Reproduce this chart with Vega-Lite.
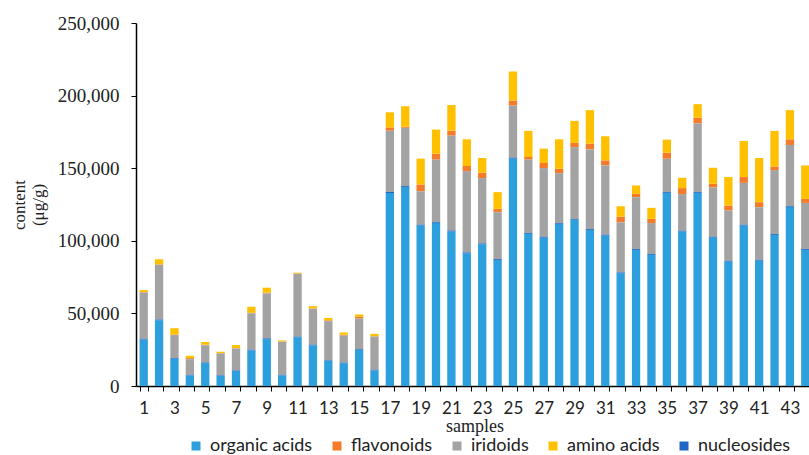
{
  "$schema": "https://vega.github.io/schema/vega-lite/v6.json",
  "width": 673,
  "height": 363,
  "autosize": "none",
  "padding": {"left": 136, "top": 23, "right": 0, "bottom": 69},
  "background": "white",
  "data": {"values": [
    {"sample": 1, "organic acids": 32000, "flavonoids": 300, "iridoids": 31900, "amino acids": 1400, "nucleosides": 500},
    {"sample": 2, "organic acids": 45300, "flavonoids": 300, "iridoids": 37700, "amino acids": 3500, "nucleosides": 500},
    {"sample": 3, "organic acids": 18800, "flavonoids": 300, "iridoids": 15800, "amino acids": 4400, "nucleosides": 500},
    {"sample": 4, "organic acids": 7300, "flavonoids": 700, "iridoids": 10800, "amino acids": 1600, "nucleosides": 400},
    {"sample": 5, "organic acids": 15800, "flavonoids": 300, "iridoids": 11900, "amino acids": 1900, "nucleosides": 400},
    {"sample": 6, "organic acids": 7000, "flavonoids": 300, "iridoids": 15000, "amino acids": 900, "nucleosides": 400},
    {"sample": 7, "organic acids": 10300, "flavonoids": 200, "iridoids": 15200, "amino acids": 2100, "nucleosides": 400},
    {"sample": 8, "organic acids": 24500, "flavonoids": 300, "iridoids": 25100, "amino acids": 4200, "nucleosides": 500},
    {"sample": 9, "organic acids": 32300, "flavonoids": 500, "iridoids": 31000, "amino acids": 3400, "nucleosides": 500},
    {"sample": 10, "organic acids": 7300, "flavonoids": 200, "iridoids": 22800, "amino acids": 700, "nucleosides": 400},
    {"sample": 11, "organic acids": 33600, "flavonoids": 300, "iridoids": 43200, "amino acids": 500, "nucleosides": 400},
    {"sample": 12, "organic acids": 28000, "flavonoids": 200, "iridoids": 24700, "amino acids": 1600, "nucleosides": 500},
    {"sample": 13, "organic acids": 17300, "flavonoids": 500, "iridoids": 27000, "amino acids": 1700, "nucleosides": 400},
    {"sample": 14, "organic acids": 15700, "flavonoids": 600, "iridoids": 18600, "amino acids": 1600, "nucleosides": 400},
    {"sample": 15, "organic acids": 25000, "flavonoids": 1300, "iridoids": 20900, "amino acids": 1600, "nucleosides": 500},
    {"sample": 16, "organic acids": 10700, "flavonoids": 200, "iridoids": 22900, "amino acids": 1600, "nucleosides": 500},
    {"sample": 17, "organic acids": 132900, "flavonoids": 2300, "iridoids": 42200, "amino acids": 10400, "nucleosides": 700},
    {"sample": 18, "organic acids": 137100, "flavonoids": 700, "iridoids": 40100, "amino acids": 14200, "nucleosides": 600},
    {"sample": 19, "organic acids": 110500, "flavonoids": 4700, "iridoids": 23000, "amino acids": 17800, "nucleosides": 600},
    {"sample": 20, "organic acids": 112200, "flavonoids": 4100, "iridoids": 43100, "amino acids": 16600, "nucleosides": 600},
    {"sample": 21, "organic acids": 106400, "flavonoids": 3400, "iridoids": 65300, "amino acids": 17700, "nucleosides": 700},
    {"sample": 22, "organic acids": 91400, "flavonoids": 3500, "iridoids": 56000, "amino acids": 18400, "nucleosides": 600},
    {"sample": 23, "organic acids": 97600, "flavonoids": 3700, "iridoids": 45000, "amino acids": 10100, "nucleosides": 600},
    {"sample": 24, "organic acids": 86800, "flavonoids": 2300, "iridoids": 32300, "amino acids": 11500, "nucleosides": 600},
    {"sample": 25, "organic acids": 156600, "flavonoids": 3500, "iridoids": 35800, "amino acids": 20000, "nucleosides": 700},
    {"sample": 26, "organic acids": 104800, "flavonoids": 1800, "iridoids": 50500, "amino acids": 18000, "nucleosides": 600},
    {"sample": 27, "organic acids": 102200, "flavonoids": 3500, "iridoids": 47300, "amino acids": 9900, "nucleosides": 600},
    {"sample": 28, "organic acids": 111500, "flavonoids": 3000, "iridoids": 34500, "amino acids": 20300, "nucleosides": 600},
    {"sample": 29, "organic acids": 114500, "flavonoids": 2900, "iridoids": 49400, "amino acids": 15200, "nucleosides": 600},
    {"sample": 30, "organic acids": 107500, "flavonoids": 4000, "iridoids": 54800, "amino acids": 23100, "nucleosides": 600},
    {"sample": 31, "organic acids": 103600, "flavonoids": 3500, "iridoids": 47700, "amino acids": 16600, "nucleosides": 600},
    {"sample": 32, "organic acids": 77600, "flavonoids": 3900, "iridoids": 34500, "amino acids": 7200, "nucleosides": 600},
    {"sample": 33, "organic acids": 93700, "flavonoids": 2300, "iridoids": 35700, "amino acids": 5800, "nucleosides": 600},
    {"sample": 34, "organic acids": 90300, "flavonoids": 2900, "iridoids": 21300, "amino acids": 7600, "nucleosides": 600},
    {"sample": 35, "organic acids": 132900, "flavonoids": 4200, "iridoids": 23000, "amino acids": 9000, "nucleosides": 600},
    {"sample": 36, "organic acids": 106400, "flavonoids": 4100, "iridoids": 25200, "amino acids": 7100, "nucleosides": 600},
    {"sample": 37, "organic acids": 132900, "flavonoids": 3900, "iridoids": 47300, "amino acids": 9400, "nucleosides": 600},
    {"sample": 38, "organic acids": 102200, "flavonoids": 2600, "iridoids": 33900, "amino acids": 11000, "nucleosides": 600},
    {"sample": 39, "organic acids": 85600, "flavonoids": 3500, "iridoids": 34600, "amino acids": 19600, "nucleosides": 600},
    {"sample": 40, "organic acids": 110500, "flavonoids": 4000, "iridoids": 28800, "amino acids": 24900, "nucleosides": 600},
    {"sample": 41, "organic acids": 86300, "flavonoids": 3500, "iridoids": 36200, "amino acids": 30400, "nucleosides": 600},
    {"sample": 42, "organic acids": 104100, "flavonoids": 2500, "iridoids": 44000, "amino acids": 24500, "nucleosides": 600},
    {"sample": 43, "organic acids": 123200, "flavonoids": 3900, "iridoids": 42200, "amino acids": 20100, "nucleosides": 600},
    {"sample": 44, "organic acids": 93700, "flavonoids": 2800, "iridoids": 31800, "amino acids": 23000, "nucleosides": 600}
  ]},
  "transform": [
    {"fold": ["organic acids", "flavonoids", "iridoids", "amino acids", "nucleosides"], "as": ["compound", "content"]}
  ],
  "mark": {"type": "bar"},
  "encoding": {
    "x": {
      "field": "sample",
      "type": "ordinal",
      "scale": {"range": [0, 677], "paddingInner": 0.46, "paddingOuter": 0.23},
      "axis": {
        "labelExpr": "datum.value % 2 == 1 ? datum.label : ''",
        "labelAngle": 0,
        "labelFont": "Lato",
        "labelFontSize": 17,
        "labelColor": "#222222",
        "labelPadding": 9,
        "tickBand": "extent",
        "tickSize": 5,
        "tickColor": "black",
        "domainColor": "black",
        "domainWidth": 1.5,
        "title": "samples",
        "titleFont": "Liberation Serif",
        "titleFontSize": 18,
        "titleFontWeight": "normal",
        "titleColor": "#222222",
        "titlePadding": 1
      }
    },
    "y": {
      "field": "content",
      "type": "quantitative",
      "stack": "zero",
      "scale": {"domain": [0, 250000]},
      "axis": {
        "values": [0, 50000, 100000, 150000, 200000, 250000],
        "format": ",d",
        "grid": false,
        "labelFont": "Liberation Serif",
        "labelFontSize": 19,
        "labelColor": "#222222",
        "labelPadding": 12,
        "tickSize": 5,
        "tickColor": "black",
        "domainColor": "black",
        "domainWidth": 1.5,
        "title": ["content", "(μg/g)"],
        "titleFont": "Liberation Serif",
        "titleFontSize": 17,
        "titleFontWeight": "normal",
        "titleColor": "#222222",
        "titlePadding": 10
      }
    },
    "color": {
      "field": "compound",
      "type": "nominal",
      "sort": ["organic acids", "flavonoids", "iridoids", "amino acids", "nucleosides"],
      "scale": {
        "domain": ["organic acids", "flavonoids", "iridoids", "amino acids", "nucleosides"],
        "range": ["#2C9FDC", "#F47B2A", "#A3A3A3", "#FFC000", "#2166C4"]
      },
      "legend": {
        "orient": "none",
        "legendX": 51,
        "legendY": 414,
        "direction": "horizontal",
        "title": null,
        "symbolType": "square",
        "symbolSize": 81,
        "symbolStrokeWidth": 0,
        "labelFont": "Lato",
        "labelFontSize": 18,
        "labelColor": "#222222",
        "labelOffset": 5,
        "columnPadding": 15
      }
    }
  },
  "config": {
    "view": {"stroke": null}
  }
}
